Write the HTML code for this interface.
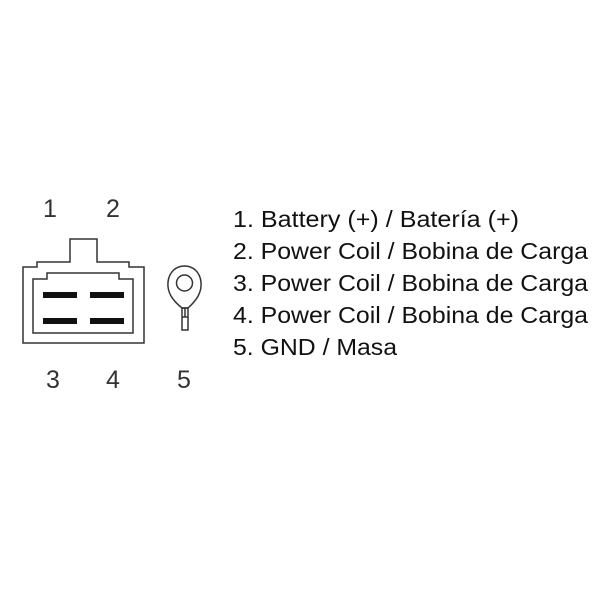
<!DOCTYPE html>
<html><head><meta charset="utf-8"><style>
html,body{margin:0;padding:0;background:#fff;width:600px;height:600px;overflow:hidden}
svg{display:block}
text{font-family:"Liberation Sans",Arial,sans-serif;fill:#111}
</style></head><body>
<svg width="600" height="600" viewBox="0 0 600 600">
<rect width="600" height="600" fill="#fff"/>
<g fill="none" stroke="#333" stroke-width="1.5">
<path d="M23 343 L23 267 L37 267 L37 262 L70 262 L70 239 L97 239 L97 262 L129 262 L129 267 L144 267 L144 343 Z"/>
<path d="M33 333 L33 279 L47 279 L47 273 L119 273 L119 279 L133 279 L133 333 Z"/>
<path d="M182 308 C172 300 167 292 168 282 C169 272 176 266 184.5 266 C193 266 200 272 201 282 C202 292 197 300 188 308 Z"/>
<circle cx="184.5" cy="283" r="8"/>
<rect x="182" y="308" width="6" height="22"/>
<line x1="182" y1="317" x2="188" y2="317"/>
<line x1="185" y1="308" x2="185" y2="317"/>
</g>
<g fill="#111">
<rect x="43" y="292" width="34" height="6"/>
<rect x="90" y="292" width="34" height="6"/>
<rect x="43" y="318" width="34" height="6"/>
<rect x="90" y="318" width="34" height="6"/>
</g>
<g font-size="25" text-anchor="middle">
<text x="50" y="217" style="fill:#333">1</text>
<text x="113" y="217" style="fill:#333">2</text>
<text x="53" y="388" style="fill:#333">3</text>
<text x="113" y="388" style="fill:#333">4</text>
<text x="184" y="388" style="fill:#333">5</text>
</g>
<g font-size="23">
<text x="233" y="227" textLength="286" lengthAdjust="spacingAndGlyphs">1. Battery (+) / Batería (+)</text>
<text x="233" y="259" textLength="355" lengthAdjust="spacingAndGlyphs">2. Power Coil / Bobina de Carga</text>
<text x="233" y="291" textLength="355" lengthAdjust="spacingAndGlyphs">3. Power Coil / Bobina de Carga</text>
<text x="233" y="323" textLength="355" lengthAdjust="spacingAndGlyphs">4. Power Coil / Bobina de Carga</text>
<text x="233" y="355" textLength="164" lengthAdjust="spacingAndGlyphs">5. GND / Masa</text>
</g>
</svg>
</body></html>
